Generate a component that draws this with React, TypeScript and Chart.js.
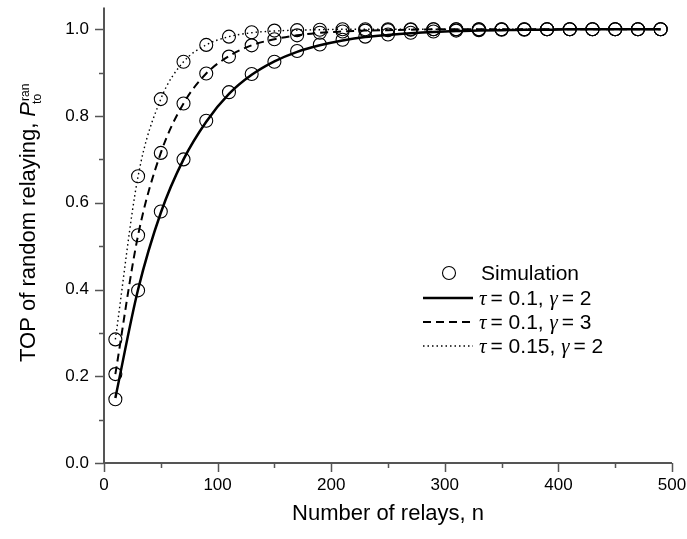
import React, { useEffect, useRef } from "react";
import { Chart, registerables } from "chart.js";

Chart.register(...registerables);

// ---------- data ----------
const relays = [10, 30, 50, 70, 90, 110, 130, 150, 170, 190, 210, 230, 250, 270, 290, 310, 330, 350, 370, 390, 410, 430, 450, 470, 490];

// simulation results (circles)
const simTau01Gamma2 = [0.147, 0.398, 0.58, 0.7, 0.789, 0.855, 0.897, 0.925, 0.95, 0.965, 0.976, 0.983, 0.988, 0.992, 0.995, 0.997, 0.998, 0.999, 0.999, 1.0, 1.0, 1.0, 1.0, 1.0, 1.0];
const simTau01Gamma3 = [0.205, 0.525, 0.715, 0.829, 0.898, 0.937, 0.963, 0.977, 0.986, 0.992, 0.995, 0.997, 0.998, 0.999, 1.0, 1.0, 1.0, 1.0, 1.0, 1.0, 1.0, 1.0, 1.0, 1.0, 1.0];
const simTau015Gamma2 = [0.285, 0.661, 0.839, 0.925, 0.964, 0.983, 0.993, 0.997, 0.998, 0.999, 1.0, 1.0, 1.0, 1.0, 1.0, 1.0, 1.0, 1.0, 1.0, 1.0, 1.0, 1.0, 1.0, 1.0, 1.0];

// analytical curves (lines)
const theoryTau01Gamma2 = [0.15, 0.4, 0.577, 0.7, 0.787, 0.851, 0.895, 0.926, 0.948, 0.963, 0.974, 0.982, 0.987, 0.991, 0.994, 0.996, 0.997, 0.998, 0.999, 0.999, 1.0, 1.0, 1.0, 1.0, 1.0];
const theoryTau01Gamma3 = [0.205, 0.525, 0.715, 0.829, 0.898, 0.938, 0.963, 0.977, 0.986, 0.992, 0.995, 0.997, 0.998, 0.999, 1.0, 1.0, 1.0, 1.0, 1.0, 1.0, 1.0, 1.0, 1.0, 1.0, 1.0];
const theoryTau015Gamma2 = [0.285, 0.661, 0.839, 0.925, 0.964, 0.983, 0.992, 0.996, 0.998, 0.999, 1.0, 1.0, 1.0, 1.0, 1.0, 1.0, 1.0, 1.0, 1.0, 1.0, 1.0, 1.0, 1.0, 1.0, 1.0];

const xMajorTicks = [0, 100, 200, 300, 400, 500];
const xMinorTicks = [50, 150, 250, 350, 450];
const yMajorTicks = [0, 0.2, 0.4, 0.6, 0.8, 1.0];
const yMinorTicks = [0.1, 0.3, 0.5, 0.7, 0.9];

const xTitle = "Number of relays, n";
const yTitleMain = "TOP of random relaying, ";
const yTitleSymbol = "P";
const yTitleSup = "ran";
const yTitleSub = "to";

const legendSim = "Simulation";
const legendCurves = [
  { tau: "0.1", gamma: "2" },
  { tau: "0.1", gamma: "3" },
  { tau: "0.15", gamma: "2" },
];

const SANS = '"Liberation Sans", Arial, sans-serif';
const SERIF = '"Liberation Serif", "Times New Roman", serif';
const AXIS_COLOR = "#555555";

const toPoints = (ys: number[]) => relays.map((x, i) => ({ x, y: ys[i] }));

const decorPlugin = {
  id: "decor",
  afterDraw(chart: any) {
    const ctx: CanvasRenderingContext2D = chart.ctx;
    const xs = chart.scales.x;
    const ys = chart.scales.y;
    const { left, right, top, bottom } = chart.chartArea;
    ctx.save();
    // axis lines
    ctx.strokeStyle = AXIS_COLOR;
    ctx.lineWidth = 2;
    ctx.beginPath();
    ctx.moveTo(left, top);
    ctx.lineTo(left, bottom);
    ctx.lineTo(right, bottom);
    ctx.stroke();
    // ticks
    ctx.lineWidth = 1.5;
    ctx.beginPath();
    xMajorTicks.forEach((v) => {
      const px = Math.round(xs.getPixelForValue(v)) + 0.5;
      ctx.moveTo(px, bottom);
      ctx.lineTo(px, bottom + 9);
    });
    xMinorTicks.forEach((v) => {
      const px = Math.round(xs.getPixelForValue(v)) + 0.5;
      ctx.moveTo(px, bottom);
      ctx.lineTo(px, bottom + 5);
    });
    yMajorTicks.forEach((v) => {
      const py = Math.round(ys.getPixelForValue(v)) + 0.5;
      ctx.moveTo(left, py);
      ctx.lineTo(left - 9, py);
    });
    yMinorTicks.forEach((v) => {
      const py = Math.round(ys.getPixelForValue(v)) + 0.5;
      ctx.moveTo(left, py);
      ctx.lineTo(left - 5, py);
    });
    ctx.stroke();

    ctx.fillStyle = "#000";
    // x title
    ctx.font = `22px ${SANS}`;
    ctx.textAlign = "center";
    ctx.textBaseline = "alphabetic";
    ctx.fillText(xTitle, (left + right) / 2, 520);

    // y title (rotated)
    ctx.save();
    ctx.translate(35, 362);
    ctx.rotate(-Math.PI / 2);
    ctx.textAlign = "left";
    ctx.font = `22px ${SANS}`;
    ctx.fillText(yTitleMain, 0, 0);
    let w = ctx.measureText(yTitleMain).width;
    ctx.font = `italic 22px ${SANS}`;
    ctx.fillText(yTitleSymbol, w, 0);
    w += ctx.measureText(yTitleSymbol).width;
    ctx.font = `12px ${SANS}`;
    ctx.fillText(yTitleSup, w + 1, -6);
    ctx.fillText(yTitleSub, w - 2, 6);
    ctx.restore();

    // legend
    const lx0 = 423;
    const lx1 = 473;
    const tx = 479;
    const rows = [273, 298, 322, 346];
    ctx.textBaseline = "middle";
    ctx.textAlign = "left";
    // simulation symbol
    ctx.strokeStyle = "#000";
    ctx.lineWidth = 1.1;
    ctx.beginPath();
    ctx.arc(449, rows[0], 6.5, 0, Math.PI * 2);
    ctx.stroke();
    ctx.font = `21px ${SANS}`;
    ctx.fillText(legendSim, 481, rows[0] + 1);

    const styles = [
      { w: 2.5, dash: [] as number[] },
      { w: 2, dash: [8, 5] },
      { w: 1.4, dash: [1.5, 3] },
    ];
    legendCurves.forEach((c, i) => {
      const y = rows[i + 1];
      ctx.strokeStyle = "#000";
      ctx.lineWidth = styles[i].w;
      ctx.setLineDash(styles[i].dash);
      ctx.beginPath();
      ctx.moveTo(lx0, y);
      ctx.lineTo(lx1, y);
      ctx.stroke();
      ctx.setLineDash([]);
      let x = tx;
      const ty = y + 1;
      ctx.font = `italic 21px ${SERIF}`;
      ctx.fillText("τ", x, ty);
      x += ctx.measureText("τ").width + 4;
      ctx.font = `21px ${SANS}`;
      const s1 = `= ${c.tau}, `;
      ctx.fillText(s1, x, ty);
      x += ctx.measureText(s1).width;
      ctx.font = `italic 21px ${SERIF}`;
      ctx.fillText("γ", x, ty);
      x += ctx.measureText("γ").width + 4;
      ctx.font = `21px ${SANS}`;
      ctx.fillText(`= ${c.gamma}`, x, ty);
    });
    ctx.restore();
  },
};

export default function App() {
  const canvasRef = useRef<HTMLCanvasElement | null>(null);

  useEffect(() => {
    const canvas = canvasRef.current;
    if (!canvas) return;
    const circle = (data: number[]) => ({
      data: toPoints(data),
      showLine: false,
      pointRadius: 6.5,
      pointHoverRadius: 6.5,
      pointBorderWidth: 1.1,
      pointBorderColor: "#000",
      pointBackgroundColor: "rgba(0,0,0,0)",
      borderColor: "#000",
      backgroundColor: "rgba(0,0,0,0)",
    });
    const line = (data: number[], width: number, dash: number[]) => ({
      data: toPoints(data),
      showLine: true,
      pointRadius: 0,
      borderColor: "#000",
      borderWidth: width,
      borderDash: dash,
      cubicInterpolationMode: "monotone" as const,
      fill: false,
    });

    const chart = new Chart(canvas, {
      type: "scatter",
      data: {
        datasets: [
          line(theoryTau01Gamma2, 2.5, []),
          line(theoryTau01Gamma3, 2, [8, 5]),
          line(theoryTau015Gamma2, 1.4, [1.5, 3]),
          circle(simTau01Gamma2),
          circle(simTau01Gamma3),
          circle(simTau015Gamma2),
        ] as any,
      },
      options: {
        animation: false,
        responsive: false,
        devicePixelRatio: 1,
        layout: { padding: { left: 0, top: 7, right: 15, bottom: 0 } },
        plugins: {
          legend: { display: false },
          tooltip: { enabled: false },
          title: { display: false },
        },
        scales: {
          x: {
            type: "linear",
            min: 0,
            max: 500,
            grid: { display: false, drawTicks: false, tickLength: 0 },
            border: { display: false },
            afterBuildTicks: (scale: any) => {
              scale.ticks = xMajorTicks.map((v) => ({ value: v }));
            },
            afterFit: (scale: any) => {
              scale.height = 76;
              scale.paddingLeft = 0;
              scale.paddingRight = 0;
              scale.paddingTop = 0;
              scale.paddingBottom = 0;
            },
            ticks: {
              color: "#000",
              font: { family: SANS, size: 17 },
              padding: 12,
              maxRotation: 0,
              callback: (v: any) => String(v),
            },
          },
          y: {
            type: "linear",
            min: 0,
            max: 1.05,
            grid: { display: false, drawTicks: false, tickLength: 0 },
            border: { display: false },
            afterBuildTicks: (scale: any) => {
              scale.ticks = yMajorTicks.map((v) => ({ value: v }));
            },
            afterFit: (scale: any) => {
              scale.width = 104;
              scale.paddingLeft = 0;
              scale.paddingRight = 0;
              scale.paddingTop = 0;
              scale.paddingBottom = 0;
            },
            ticks: {
              color: "#000",
              font: { family: SANS, size: 17 },
              padding: 15,
              callback: (v: any) => Number(v).toFixed(1),
            },
          },
        },
      },
      plugins: [decorPlugin],
    });
    return () => chart.destroy();
  }, []);

  return (
    <div style={{ position: "fixed", left: 0, top: 0, width: 687, height: 539, background: "#fff" }}>
      <canvas ref={canvasRef} width={687} height={539} style={{ display: "block" }} />
    </div>
  );
}
